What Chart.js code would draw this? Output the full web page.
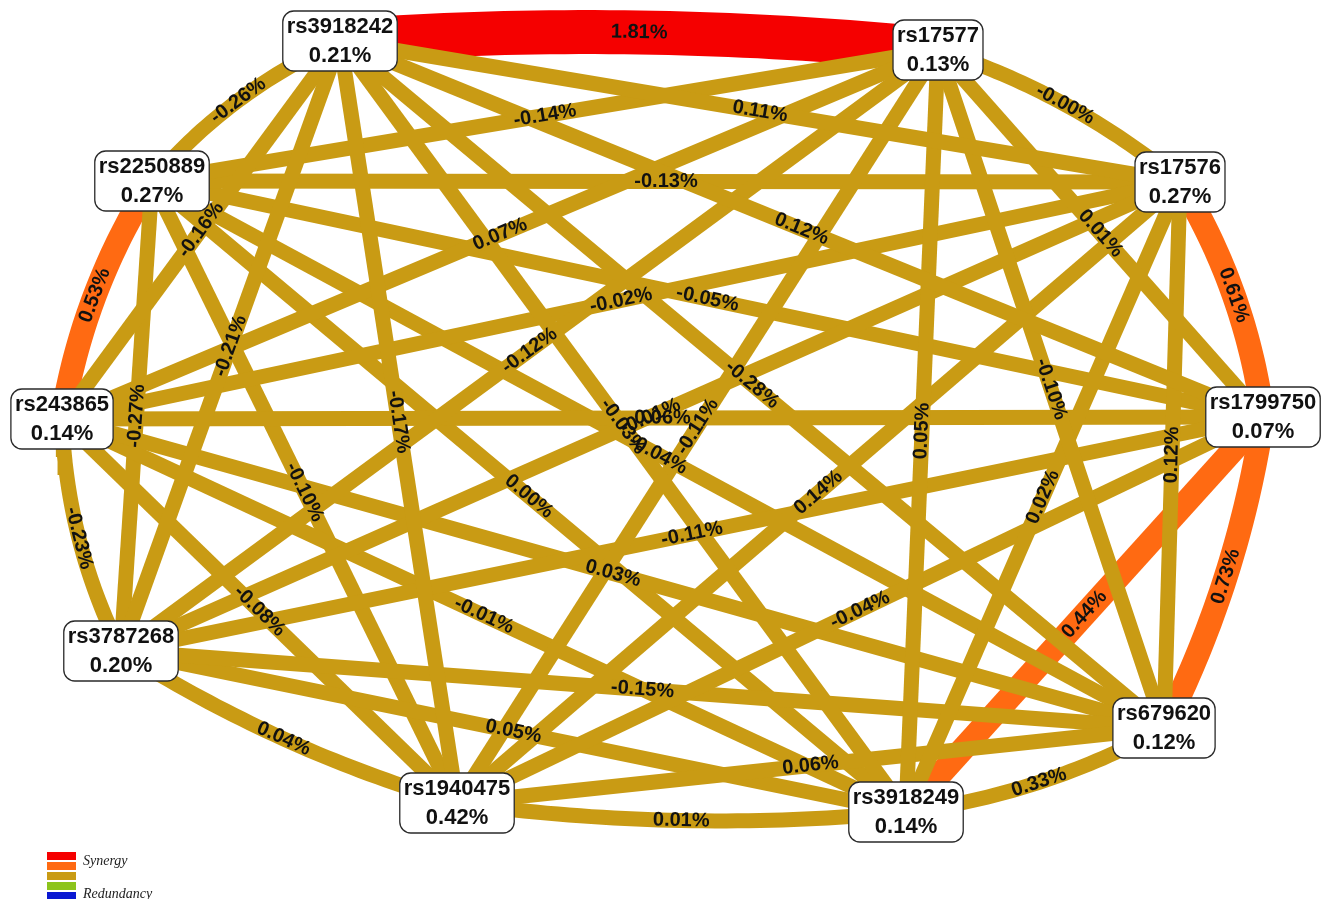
<!DOCTYPE html>
<html><head><meta charset="utf-8">
<script src="https://cdn.jsdelivr.net/npm/chart.js@4.4.1/dist/chart.umd.min.js"></script>
<style>html,body{margin:0;padding:0;background:#fff;overflow:hidden}#wrap{width:1326px;height:899px}</style>
</head><body><div id="wrap"><canvas id="c" width="1326" height="899"></canvas></div>
<script>
// ---- data ----
const nodeNames = ['rs3918242','rs17577','rs17576','rs1799750','rs679620','rs3918249','rs1940475','rs3787268','rs243865','rs2250889'];
const nodeEntropy = [0.21, 0.13, 0.27, 0.07, 0.12, 0.14, 0.42, 0.20, 0.14, 0.27];
// node layout (graph coordinates)
const nodeX = [340, 938, 1180, 1263, 1164, 906, 457, 121, 62, 152];
const nodeY = [41, 50, 182, 417, 728, 812, 803, 651, 419, 181];
// edges: interaction information (%)
const edgeFrom = [0,0,0,0,0,0,0,0,0, 1,1,1,1,1,1,1,1, 2,2,2,2,2,2,2, 3,3,3,3,3,3, 4,4,4,4,4, 5,5,5,5, 6,6,6, 7,7, 8];
const edgeTo   = [1,2,3,4,5,6,7,8,9, 2,3,4,5,6,7,8,9, 3,4,5,6,7,8,9, 4,5,6,7,8,9, 5,6,7,8,9, 6,7,8,9, 7,8,9, 8,9, 9];
const edgeValues = [1.81, 0.11, 0.12, -0.28, -0.03, -0.17, -0.21, -0.16, -0.26,
                    -0, 0.01, -0.10, 0.05, -0.11, -0.12, 0.07, -0.14,
                    0.61, 0.12, 0.02, 0.14, -0.01, -0.02, -0.13,
                    0.73, 0.44, -0.04, -0.11, 0.06, -0.05,
                    0.33, 0.06, -0.15, 0.03, -0.04,
                    0.01, 0.05, -0.01, 0.00,
                    0.04, -0.08, -0.10,
                    -0.23, -0.27,
                    0.53];
const legendColors = ['#f50000','#ff6a12','#c99b14','#8cc41c','#0a18d2'];
const legendLabels = ['Synergy','','','','Redundancy'];

// ---- styling helpers ----
const GOLD = '#c99b14', ORANGE = '#ff6a12', RED = '#f50000';
const BEND = 13;
function edgeColor(v){ return v >= 1 ? RED : (v >= 0.4 ? ORANGE : GOLD); }
function edgeWidth(v){ return v >= 1 ? 44 : (v >= 0.4 ? 24 : 15); }
function fmt(v){ return ((v < 0 || Object.is(v,-0)) ? '-' : '') + Math.abs(v).toFixed(2) + '%'; }
const cxAll = nodeX.reduce((a,b)=>a+b,0)/nodeX.length;
const cyAll = nodeY.reduce((a,b)=>a+b,0)/nodeY.length;

function edgeGeom(i){
  const a = edgeFrom[i], b = edgeTo[i], n = nodeNames.length;
  const x0 = nodeX[a], y0 = nodeY[a], x1 = nodeX[b], y1 = nodeY[b];
  const adjacent = Math.abs(a-b) === 1 || Math.abs(a-b) === n-1;
  const mx = (x0+x1)/2, my = (y0+y1)/2;
  if (!adjacent) return {pts:[{x:x0,y:y0},{x:x1,y:y1}], mid:{x:mx,y:my}};
  let nx = -(y1-y0), ny = x1-x0; const L = Math.hypot(nx,ny); nx/=L; ny/=L;
  if ((mx-cxAll)*nx + (my-cyAll)*ny < 0){ nx=-nx; ny=-ny; }
  const qx = mx + nx*2*BEND, qy = my + ny*2*BEND;
  const pts = [];
  for (let k=0;k<=40;k++){
    const t=k/40, u=1-t;
    pts.push({x:u*u*x0+2*u*t*qx+t*t*x1, y:u*u*y0+2*u*t*qy+t*t*y1});
  }
  return {pts, mid:{x:0.25*x0+0.5*qx+0.25*x1, y:0.25*y0+0.5*qy+0.25*y1}};
}

const geoms = edgeValues.map((v,i)=>edgeGeom(i));
const datasets = edgeValues.map((v,i)=>({
  data: geoms[i].pts,
  showLine: true,
  borderColor: edgeColor(v),
  borderWidth: edgeWidth(v),
  pointRadius: 0,
  fill: false,
  tension: 0,
  borderCapStyle: 'butt',
  order: edgeColor(v) === GOLD ? 0 : 1
}));

const overlay = {
  id: 'overlay',
  afterDatasetsDraw(chart){
    const ctx = chart.ctx, xs = chart.scales.x, ys = chart.scales.y;
    // edge labels
    ctx.save();
    ctx.fillStyle = '#111';
    ctx.font = 'bold 20px "Liberation Sans", Arial, sans-serif';
    ctx.textAlign = 'center'; ctx.textBaseline = 'middle';
    edgeValues.forEach((v,i)=>{
      const a = edgeFrom[i], b = edgeTo[i];
      const px = xs.getPixelForValue(geoms[i].mid.x), py = ys.getPixelForValue(geoms[i].mid.y);
      let ang = Math.atan2(ys.getPixelForValue(nodeY[b]) - ys.getPixelForValue(nodeY[a]),
                           xs.getPixelForValue(nodeX[b]) - xs.getPixelForValue(nodeX[a]));
      if (ang > Math.PI/2) ang -= Math.PI;
      if (ang <= -Math.PI/2) ang += Math.PI;
      ctx.save(); ctx.translate(px,py); ctx.rotate(ang);
      ctx.fillText(fmt(v), 0, 0);
      ctx.restore();
    });
    ctx.restore();
    // nodes
    ctx.save();
    ctx.font = 'bold 22px "Liberation Sans", Arial, sans-serif';
    ctx.textAlign = 'center'; ctx.textBaseline = 'middle';
    nodeNames.forEach((name,i)=>{
      const px = xs.getPixelForValue(nodeX[i]), py = ys.getPixelForValue(nodeY[i]);
      const val = nodeEntropy[i].toFixed(2) + '%';
      const w = Math.max(ctx.measureText(name).width, ctx.measureText(val).width) + 8;
      const h = 60;
      ctx.beginPath();
      ctx.roundRect(px - w/2, py - h/2, w, h, 11);
      ctx.fillStyle = '#ffffff'; ctx.fill();
      ctx.lineWidth = 1.3; ctx.strokeStyle = '#2a2a2a'; ctx.stroke();
      ctx.fillStyle = '#111';
      ctx.fillText(name, px, py - 14);
      ctx.fillText(val, px, py + 15);
    });
    ctx.restore();
    // legend
    ctx.save();
    legendColors.forEach((c,k)=>{
      ctx.fillStyle = c;
      ctx.fillRect(47, 852 + k*10, 29, 8);
    });
    ctx.fillStyle = '#222';
    ctx.font = 'italic 14px "Liberation Serif", "Times New Roman", serif';
    ctx.textBaseline = 'middle'; ctx.textAlign = 'left';
    legendLabels.forEach((t,k)=>{ if (t) ctx.fillText(t, 83, k === 0 ? 861 : 894); });
    ctx.restore();
  }
};

new Chart(document.getElementById('c'), {
  type: 'scatter',
  data: { datasets },
  options: {
    responsive: false, animation: false, devicePixelRatio: 1,
    layout: { padding: 0 },
    events: [],
    plugins: { legend: { display: false }, tooltip: { enabled: false } },
    scales: {
      x: { type: 'linear', min: 0, max: 1326, display: false },
      y: { type: 'linear', min: 0, max: 899, reverse: true, display: false }
    }
  },
  plugins: [overlay]
});
</script>
</body></html>
